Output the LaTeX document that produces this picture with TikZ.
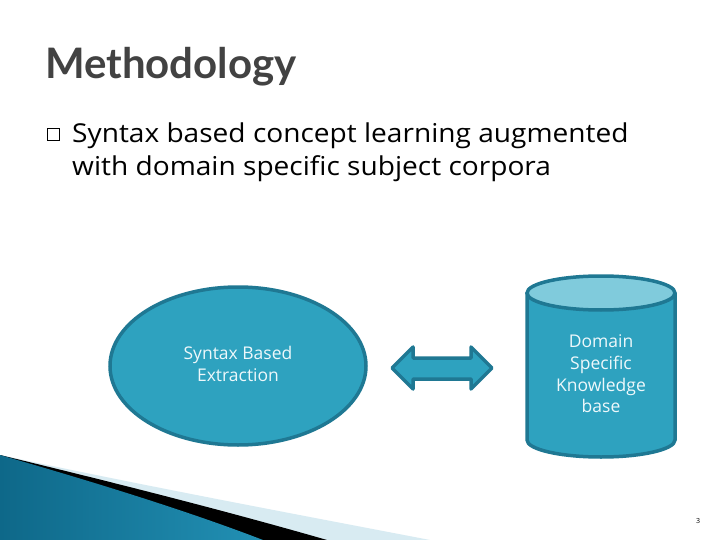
\documentclass[tikz,border=0pt]{standalone}
\usepackage{fontspec}
\setmainfont{Open Sans}
\newfontfamily\bodyfont[FakeStretch=1.08]{Open Sans}
\newfontfamily\titlefont{Lato}
\usetikzlibrary{shapes.geometric}
\definecolor{tealfill}{HTML}{2EA2BF}
\definecolor{tealedge}{HTML}{1F7893}
\definecolor{teallight}{HTML}{80CBDC}
\definecolor{txtwhite}{HTML}{EEF8FB}
\definecolor{titlegray}{HTML}{424242}
\definecolor{stripelight}{HTML}{D8EBF2}
\definecolor{swdark}{HTML}{0E6889}
\definecolor{swlight}{HTML}{58BCDF}
\definecolor{swmid}{HTML}{2290B4}
\tikzset{
  shapebox/.style={fill=tealfill, draw=tealedge, line width=3.5pt},
  inlabel/.style={text=txtwhite, font=\fontsize{17.5}{21.7}\selectfont, align=center},
  titletext/.style={font=\titlefont\bfseries\fontsize{42}{48}\selectfont, anchor=base west, inner sep=0pt},
  bodytext/.style={font=\bodyfont\fontsize{26}{33}\selectfont, anchor=base west, inner sep=0pt, text=black}
}
\begin{document}
\begin{tikzpicture}[x=1pt,y=-1pt]
\useasboundingbox (0,0) rectangle (720,540);
\fill[white] (0,0) rectangle (720,540);
% bottom-left swoosh
\fill[stripelight] (0,455) .. controls (150,487) and (300,515) .. (430,540) -- (0,540) -- cycle;
\fill[black] (0,455) .. controls (120,484) and (230,512) .. (327,540) -- (0,540) -- cycle;
\shade[left color=swdark, middle color=swlight, right color=swmid] (0,455) .. controls (80,478) and (180,508) .. (263,540) -- (0,540) -- cycle;
% title
\node[titletext, text=titlegray] (title) at (45,79) {Methodology};
% bullet
\node[draw=black, line width=0.6pt, minimum size=12pt, inner sep=0pt] (bul) at (53,134) {};
\node[bodytext] (l1) at (72,143) {Syntax based concept learning augmented};
\node[bodytext] (l2) at (72,176) {with domain specific subject corpora};
% ellipse
\node[shapebox, ellipse, minimum width=256pt, minimum height=158pt, inner sep=0pt] (syn) at (238,366) {};
\node[inlabel] (synlabel) at (238,364) {Syntax Based\\Extraction};
% double arrow
\coordinate (arrL) at (392,368);
\coordinate (arrR) at (492,368);
\draw[shapebox, line join=round] (arrL) -- (413,347) -- (413,358) -- (471,358) -- (471,347) -- (arrR)
  -- (471,389) -- (471,379) -- (413,379) -- (413,389) -- cycle;
% cylinder
\fill[tealfill] (527,293) -- (527,440) arc[start angle=180, end angle=360, x radius=74pt, y radius=17pt] -- (675,293) -- cycle;
\draw[tealedge, line width=3.5pt] (527,293) -- (527,440) arc[start angle=180, end angle=360, x radius=74pt, y radius=17pt] -- (675,293);
\draw[tealedge, line width=3.5pt, fill=teallight] (601,293) ellipse[x radius=74pt, y radius=17pt];
\node[inlabel] (db) at (601,374) {Domain\\Specific\\Knowledge\\base};
% page number
\node[font=\fontsize{7}{7}\selectfont, text=black] (pg) at (698,521) {3};
\end{tikzpicture}
\end{document}
